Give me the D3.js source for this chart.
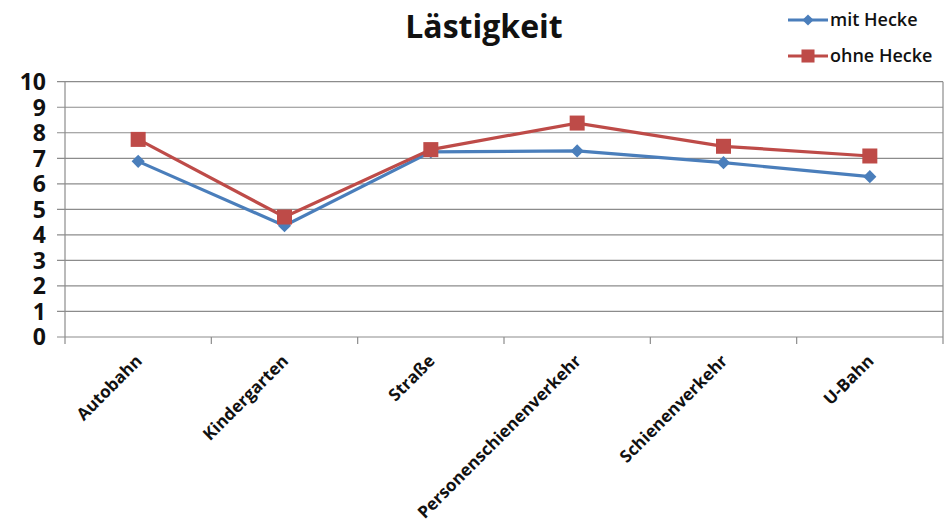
<!DOCTYPE html>
<html>
<head>
<meta charset="utf-8">
<script src="https://cdn.jsdelivr.net/npm/d3@7"></script>
<style>
  body { margin: 0; background: #fff; }
  svg text { font-family: "Open Sans", "DejaVu Sans", sans-serif; }
</style>
</head>
<body>
<div id="chart"></div>
<script>
// data
var categories = ["Autobahn", "Kindergarten", "Straße", "Personenschienenverkehr", "Schienenverkehr", "U-Bahn"];
var mitHecke = [6.88, 4.36, 7.25, 7.29, 6.83, 6.28];
var ohneHecke = [7.74, 4.70, 7.34, 8.38, 7.47, 7.09];
var yTicks = [0, 1, 2, 3, 4, 5, 6, 7, 8, 9, 10];

var W = 947, H = 528;
var plotLeft = 65, plotRight = 943, plotTop = 81.7, plotBottom = 337;

var svg = d3.select("#chart").append("svg")
    .attr("width", W)
    .attr("height", H);

var x = d3.scaleBand().domain(categories).range([plotLeft, plotRight]);
var y = d3.scaleLinear().domain([0, 10]).range([plotBottom, plotTop]);

// gridlines
svg.append("g")
  .selectAll("line")
  .data(yTicks)
  .enter().append("line")
  .attr("x1", plotLeft - 8)
  .attr("x2", plotRight)
  .attr("y1", function(d){ return y(d); })
  .attr("y2", function(d){ return y(d); })
  .attr("stroke", "#8c8c8c")
  .attr("stroke-width", 1.2);

// left axis + right border
svg.append("line").attr("x1", plotLeft).attr("x2", plotLeft).attr("y1", plotTop).attr("y2", plotBottom)
  .attr("stroke", "#8c8c8c").attr("stroke-width", 1.2);
svg.append("line").attr("x1", plotRight).attr("x2", plotRight).attr("y1", plotTop).attr("y2", plotBottom)
  .attr("stroke", "#8c8c8c").attr("stroke-width", 1.2);

// x ticks at category boundaries
var bounds = categories.map(function(c){ return x(c); }).concat([plotRight]);
svg.append("g")
  .selectAll("line")
  .data(bounds)
  .enter().append("line")
  .attr("x1", function(d){ return d; })
  .attr("x2", function(d){ return d; })
  .attr("y1", plotBottom)
  .attr("y2", plotBottom + 7)
  .attr("stroke", "#8c8c8c")
  .attr("stroke-width", 1.2);

// y labels
svg.append("g")
  .selectAll("text")
  .data(yTicks)
  .enter().append("text")
  .attr("x", 46)
  .attr("y", function(d){ return y(d); })
  .attr("dy", "0.36em")
  .attr("text-anchor", "end")
  .attr("font-size", 23)
  .attr("font-weight", "bold")
  .attr("fill", "#111")
  .text(function(d){ return d; });

// x labels
svg.append("g")
  .selectAll("text")
  .data(categories)
  .enter().append("text")
  .attr("transform", function(d){
    return "translate(" + (x(d) + x.bandwidth() / 2 + 5) + "," + (plotBottom + 25) + ") rotate(-45)";
  })
  .attr("text-anchor", "end")
  .attr("font-size", 17)
  .attr("font-weight", "bold")
  .attr("fill", "#111")
  .text(function(d){ return d; });

var cx = function(i){ return x(categories[i]) + x.bandwidth() / 2; };
var line = d3.line()
  .x(function(d, i){ return cx(i); })
  .y(function(d){ return y(d); });

var blue = "#4a7ebb", red = "#be4b48";

// mit Hecke
svg.append("path").datum(mitHecke)
  .attr("d", line).attr("fill", "none")
  .attr("stroke", blue).attr("stroke-width", 3.2);
svg.append("g").selectAll("path")
  .data(mitHecke)
  .enter().append("path")
  .attr("transform", function(d, i){ return "translate(" + cx(i) + "," + y(d) + ")"; })
  .attr("d", d3.symbol().type(d3.symbolDiamond2).size(110))
  .attr("fill", blue);

// ohne Hecke
svg.append("path").datum(ohneHecke)
  .attr("d", line).attr("fill", "none")
  .attr("stroke", red).attr("stroke-width", 3.2);
svg.append("g").selectAll("rect")
  .data(ohneHecke)
  .enter().append("rect")
  .attr("x", function(d, i){ return cx(i) - 7.5; })
  .attr("y", function(d){ return y(d) - 7.5; })
  .attr("width", 15)
  .attr("height", 15)
  .attr("fill", red);

// title
svg.append("text")
  .attr("x", 484)
  .attr("y", 38)
  .attr("text-anchor", "middle")
  .attr("font-size", 32)
  .attr("font-weight", "bold")
  .attr("fill", "#111")
  .text("Lästigkeit");

// legend
var legend = [
  {label: "mit Hecke", color: blue, shape: "diamond", y: 20},
  {label: "ohne Hecke", color: red, shape: "square", y: 56}
];
var lg = svg.append("g").selectAll("g").data(legend).enter().append("g");
lg.append("line")
  .attr("x1", 788).attr("x2", 828)
  .attr("y1", function(d){ return d.y; }).attr("y2", function(d){ return d.y; })
  .attr("stroke", function(d){ return d.color; })
  .attr("stroke-width", 3.2);
lg.append("path")
  .attr("transform", function(d){ return "translate(808," + d.y + ")"; })
  .attr("d", function(d){
    return d.shape == "diamond"
      ? d3.symbol().type(d3.symbolDiamond2).size(80)()
      : d3.symbol().type(d3.symbolSquare).size(170)();
  })
  .attr("fill", function(d){ return d.color; });
lg.append("text")
  .attr("x", 830)
  .attr("y", function(d){ return d.y; })
  .attr("dy", "0.35em")
  .attr("font-size", 18)
  .attr("font-weight", 600)
  .attr("fill", "#111")
  .text(function(d){ return d.label; });
</script>
</body>
</html>
